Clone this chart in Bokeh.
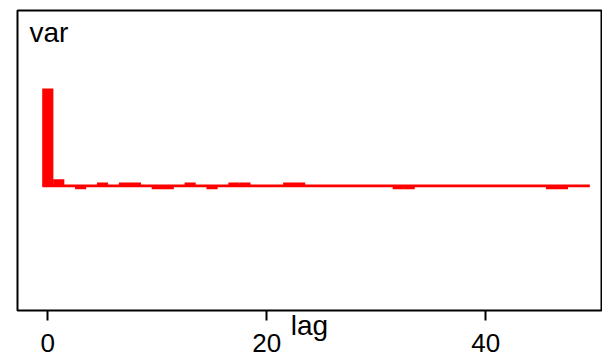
from bokeh.plotting import figure
from bokeh.models import FixedTicker, Label, Range1d
from bokeh.embed import file_html
from bokeh.resources import INLINE

lags = list(range(50))
acf = [1.0, 0.068, 0.005, -0.034, 0.004, 0.034, -0.004, 0.034, 0.034, 0.002,
       -0.034, -0.034, 0.004, 0.034, -0.005, -0.034, 0.003, 0.034, 0.034, 0.0,
       -0.004, 0.002, 0.034, 0.034, 0.005, 0.002, -0.004, 0.003, 0.0, -0.005,
       0.004, -0.002, -0.034, -0.034, 0.003, -0.002, 0.005, 0.0, -0.004, 0.002,
       0.003, -0.005, 0.002, 0.0, -0.003, 0.004, -0.034, -0.034, 0.002, -0.004]
x_ticks = [0, 20, 40]
title_text = "var"
x_label = "lag"

FONT = "Liberation Sans"

p = figure(width=602, height=353, output_backend="svg", toolbar_location=None,
           x_range=Range1d(-2.767, 50.566), y_range=Range1d(-1.280, 1.801),
           min_border_left=17, min_border_right=1, min_border_top=10, min_border_bottom=43)

p.vbar(x=lags, top=acf, bottom=0, width=1.02, fill_color="red", line_color=None)
p.line(x=[lags[0] - 0.5, lags[-1] + 0.5], y=[0, 0], line_color="red",
       line_width=2.7, line_cap="butt")

p.grid.visible = False
p.yaxis.visible = False
p.outline_line_color = "black"
p.outline_line_width = 2
p.background_fill_color = "white"
p.border_fill_color = "white"

ax = p.xaxis[0]
ax.ticker = FixedTicker(ticks=x_ticks)
ax.minor_tick_line_color = None
ax.axis_line_color = None
ax.major_tick_out = 10
ax.major_tick_in = 0
ax.major_tick_line_width = 2
ax.major_tick_line_color = "black"
ax.major_label_text_font = FONT
ax.major_label_text_font_size = "26px"
ax.major_label_text_color = "black"
ax.major_label_standoff = 13
ax.axis_label = x_label
ax.axis_label_text_font = FONT
ax.axis_label_text_font_size = "28px"
ax.axis_label_text_font_style = "normal"
ax.axis_label_text_color = "black"
ax.axis_label_standoff = -45

p.add_layout(Label(x=12, y=278, x_units="screen", y_units="screen", text=title_text,
                   text_font=FONT, text_font_size="28px", text_color="black",
                   text_baseline="alphabetic", text_align="left"))

open("out.html", "w").write(file_html(p, INLINE))
